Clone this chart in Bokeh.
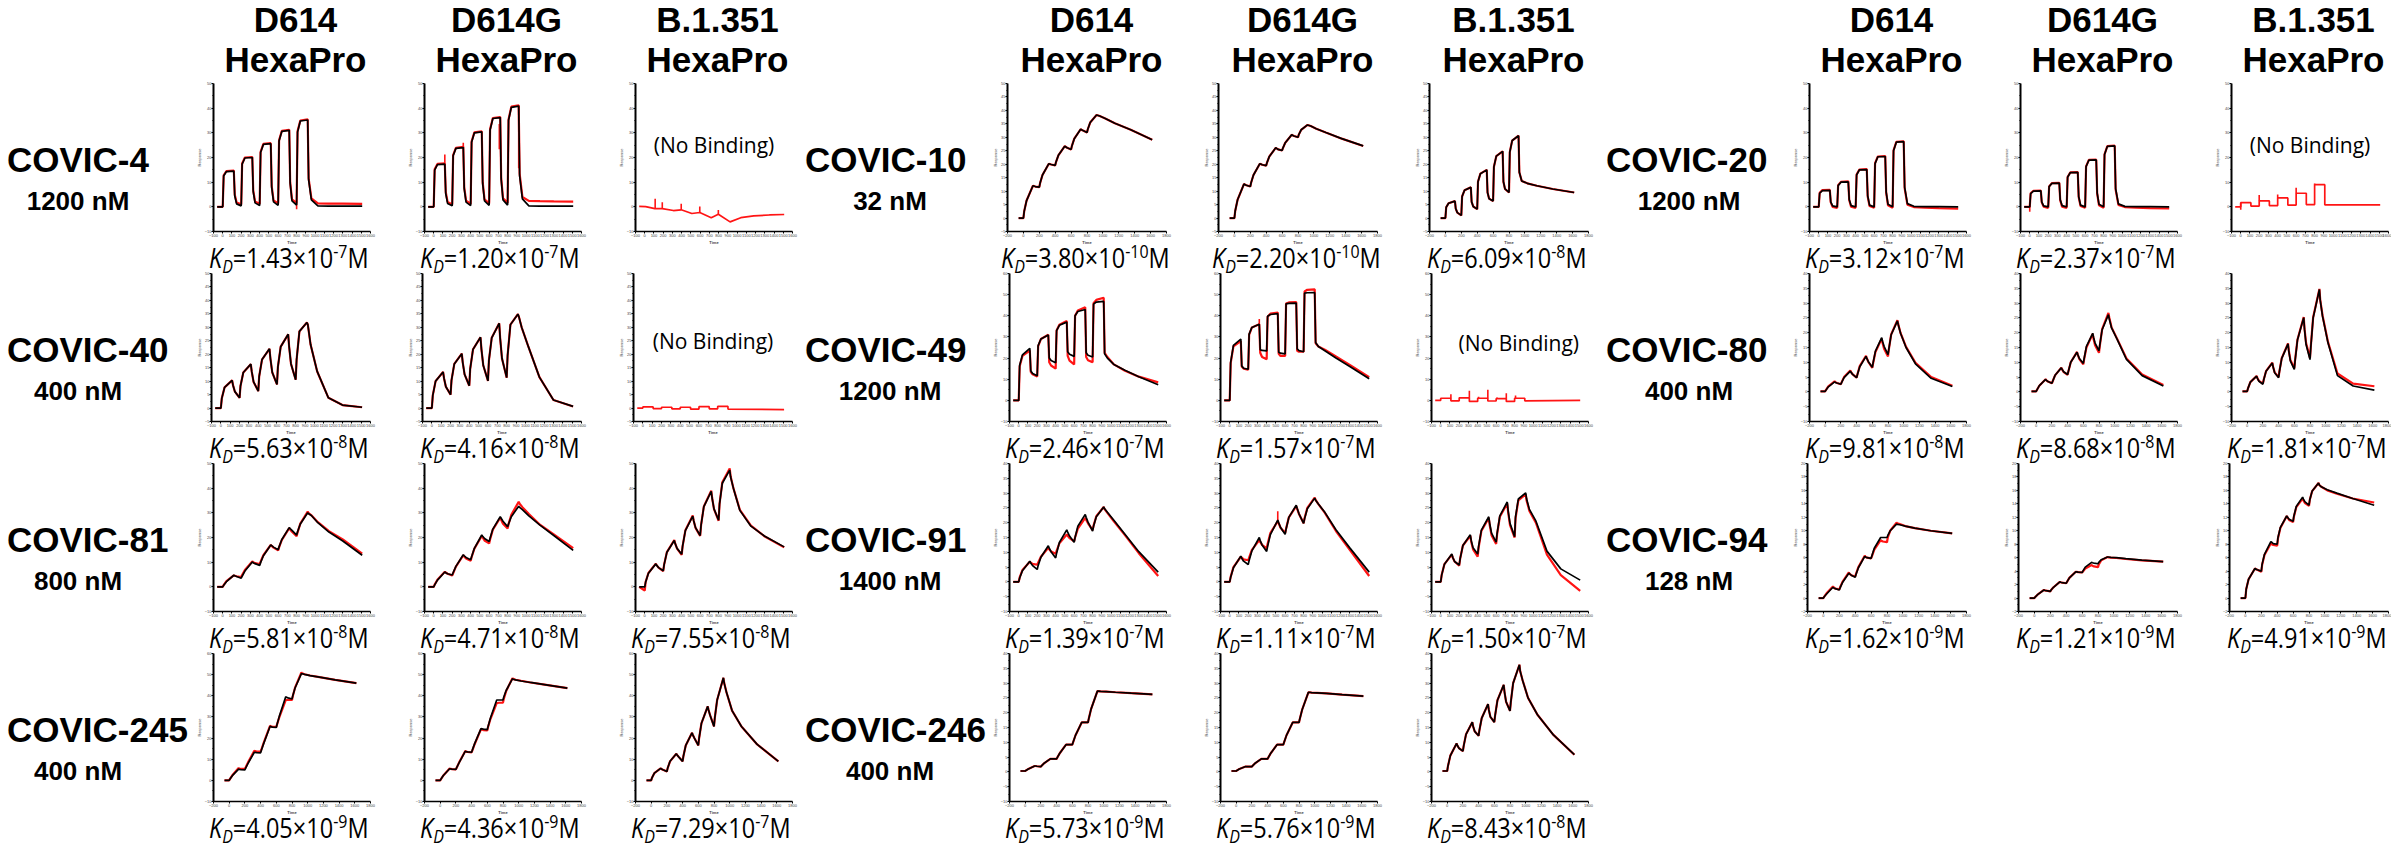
from bokeh.plotting import figure
from bokeh.models import Range1d, FixedTicker, Label, Spacer, Div
from bokeh.layouts import row, column
from bokeh.embed import file_html
from bokeh.resources import INLINE

# ---------------- data ----------------
# sample times (s) of the single-cycle sensorgrams
T_A = [-60, 0, 10, 40, 120, 130, 150, 200, 210, 240, 320, 330, 350, 400, 410, 440, 520, 530, 550,
       600, 610, 640, 720, 730, 750, 800, 810, 840, 920, 930, 960, 1030, 1150, 1300, 1510]
T_B = [-60, 0, 10, 40, 120, 130, 150, 200, 210, 240, 320, 330, 350, 400, 410, 440, 520, 530, 550,
       600, 610, 640, 720, 730, 750, 800, 810, 840, 920, 930, 960, 1030, 1150, 1350, 1620]

headers = ["D614", "D614G", "B.1.351"]
header2 = "HexaPro"
antibodies = [["COVIC-4", "COVIC-40", "COVIC-81", "COVIC-245"],
              ["COVIC-10", "COVIC-49", "COVIC-91", "COVIC-246"],
              ["COVIC-20", "COVIC-80", "COVIC-94"]]
concentrations = [["1200 nM", "400 nM", "800 nM", "400 nM"],
                  ["32 nM", "1200 nM", "1400 nM", "400 nM"],
                  ["1200 nM", "400 nM", "128 nM"]]
kd_mantissa = [[["1.43", "1.20", None], ["5.63", "4.16", None], ["5.81", "4.71", "7.55"], ["4.05", "4.36", "7.29"]],
               [["3.80", "2.20", "6.09"], ["2.46", "1.57", None], ["1.39", "1.11", "1.50"], ["5.73", "5.76", "8.43"]],
               [["3.12", "2.37", None], ["9.81", "8.68", "1.81"], ["1.62", "1.21", "4.91"]]]
kd_exponent = [[["-7", "-7", None], ["-8", "-8", None], ["-8", "-8", "-8"], ["-9", "-9", "-7"]],
               [["-10", "-10", "-8"], ["-7", "-7", None], ["-7", "-7", "-7"], ["-9", "-9", "-8"]],
               [["-7", "-7", None], ["-8", "-8", "-7"], ["-9", "-9", "-9"]]]

# COVIC-4
c4_d614_fit = [0, 0, 12.5, 14.3, 14.5, 4.5, 1.2, 0.4, 17.3, 19.8, 20.0, 6.2, 1.6, 0.5, 22.0, 25.3, 25.6, 8.0, 2.0, 0.6, 26.7, 30.6, 31.0, 9.6, 2.4, 0.7, 30.3, 34.8, 35.2, 11.0, 2.8, 0.4, 0.3, 0.3, 0.3]
c4_d614_obs = [0, 0, 12.8, 14.5, 14.7, 5.0, 1.8, 1.0, 17.6, 20.0, 20.2, 6.8, 2.2, 1.2, 22.3, 25.5, 25.8, 8.5, 2.6, 1.4, 27.0, 30.8, 31.2, 10.0, 3.0, 1.5, 30.6, 35.0, 35.5, 11.5, 3.4, 1.4, 1.3, 1.3, 1.2]
c4_d614_spk = ([800], [1.5], [-1.0])
c4_d614g_fit = [0, 0, 14.9, 17.1, 17.3, 5.4, 1.4, 0.4, 20.7, 23.7, 24.0, 7.4, 1.9, 0.5, 26.2, 30.0, 30.4, 9.4, 2.4, 0.6, 31.1, 35.8, 36.2, 11.2, 2.8, 0.7, 35.1, 40.3, 40.8, 12.6, 3.2, 0.4, 0.3, 0.3, 0.3]
c4_d614g_obs = [0, 0, 15.2, 17.4, 17.6, 6.0, 2.0, 1.0, 21.0, 23.9, 24.3, 8.0, 2.5, 1.2, 26.5, 30.2, 30.6, 10.0, 3.0, 1.4, 31.4, 36.0, 36.4, 12.0, 3.5, 1.6, 35.4, 40.6, 41.2, 13.5, 4.0, 2.4, 2.3, 2.2, 2.1]
c4_d614g_spk = ([120, 320, 710, 920], [17.5, 24.0, 33.6, 40.8], [21.2, 26.0, 23.3, 15.6])
c4_b1351_t = [-60, 10, 110, 190, 310, 395, 510, 596, 720, 797, 924, 1040, 1180, 1350, 1510]
c4_b1351_y = [0.2, 0.1, -0.7, -0.7, -1.5, -1.2, -2.7, -2.3, -4.4, -3.0, -6.1, -4.4, -3.7, -3.3, -3.1]
c4_b1351_spk = ([113, 190, 395, 596, 797], [-0.7, -0.7, -1.2, -2.3, -3.0], [3.3, 1.9, 1.3, 0.1, -1.3])

# COVIC-40
c40_d614_fit = [0, 0, 3.6, 7.7, 10.3, 8.5, 6.1, 3.8, 8.2, 13.2, 16.3, 13.6, 9.7, 6.3, 11.8, 18.0, 22.0, 18.4, 13.2, 8.8, 15.3, 22.8, 27.4, 22.8, 16.4, 10.5, 18.0, 28.5, 31.8, 31.0, 23.5, 13.6, 3.8, 1.1, 0.3]
c40_d614g_fit = [0, 0, 4.7, 10.0, 13.4, 11.1, 7.9, 5.0, 10.3, 16.4, 20.2, 17.0, 12.5, 8.3, 14.6, 21.8, 26.3, 21.9, 15.8, 10.1, 17.6, 26.1, 31.5, 26.1, 18.4, 11.3, 19.6, 31.0, 34.9, 34.0, 30.0, 23.0, 11.5, 3.0, 0.6]
c40_b1351_t = [-60, 0, 0, 110, 110, 200, 200, 310, 310, 400, 400, 510, 510, 600, 600, 710, 710, 800, 800, 910, 910, 1510]
c40_b1351_y = [0, 0, 0.4, 0.4, -0.2, -0.2, 0.3, 0.3, -0.3, -0.3, 0.3, 0.3, -0.4, -0.4, 0.5, 0.5, -0.3, -0.3, 0.6, 0.6, -0.4, -0.6]

# COVIC-81
c81_d614_fit = [0, 0, 0.6, 2.1, 4.7, 4.5, 4.2, 3.5, 4.3, 6.4, 10.1, 9.8, 9.4, 8.7, 9.8, 12.6, 17.0, 16.7, 16.1, 15.0, 16.2, 19.2, 24.0, 23.6, 22.9, 21.0, 22.3, 25.5, 30.0, 29.6, 28.9, 26.0, 22.2, 18.6, 12.8]
c81_d614_obs = [0, 0, 0.7, 2.3, 4.6, 4.5, 4.3, 4.0, 4.8, 6.8, 10.3, 10.0, 9.6, 9.2, 10.2, 12.8, 17.0, 16.6, 15.9, 14.8, 16.0, 19.0, 23.8, 23.2, 22.3, 20.5, 22.0, 25.6, 30.5, 29.9, 29.0, 26.2, 22.6, 19.2, 13.5]
c81_d614g_fit = [0, 0, 0.8, 2.7, 6.0, 5.7, 5.3, 4.8, 5.7, 8.3, 13.0, 12.6, 11.9, 11.0, 12.2, 15.6, 21.0, 20.5, 19.6, 18.4, 19.7, 23.4, 28.4, 27.8, 26.6, 24.4, 25.5, 28.4, 32.7, 32.2, 31.3, 28.8, 25.0, 20.8, 14.8]
c81_d614g_obs = [0, 0, 0.9, 2.9, 6.1, 5.8, 5.3, 4.6, 5.5, 8.2, 12.8, 12.3, 11.5, 10.6, 12.0, 15.5, 20.6, 20.0, 18.8, 17.6, 19.2, 23.2, 28.0, 27.2, 25.6, 23.6, 25.4, 29.2, 34.5, 33.7, 32.3, 29.5, 25.2, 21.3, 15.7]
c81_b1351_fit = [0, 0, 2.0, 5.5, 9.3, 8.7, 7.8, 6.5, 9.0, 14.0, 18.8, 17.5, 15.6, 13.2, 16.5, 22.8, 28.7, 26.8, 24.0, 20.8, 25.0, 32.5, 38.7, 35.9, 31.6, 27.0, 33.5, 42.0, 47.3, 44.5, 40.0, 31.0, 24.6, 20.5, 16.2]
c81_b1351_obs = [0, -1.5, 2.0, 5.6, 9.4, 8.7, 7.8, 6.4, 9.0, 14.1, 19.0, 17.5, 15.5, 13.0, 16.4, 22.9, 28.9, 26.8, 23.9, 20.6, 25.0, 32.6, 39.0, 36.0, 31.5, 26.8, 33.6, 42.4, 48.0, 44.8, 40.0, 31.2, 24.8, 20.4, 16.0]

# COVIC-245
c245_d614_fit = [0, 0, 0.6, 2.2, 5.3, 5.2, 5.1, 5.0, 5.8, 8.0, 13.3, 13.2, 13.1, 13.0, 14.2, 17.5, 25.5, 25.4, 25.2, 25.0, 26.5, 30.5, 39.5, 39.3, 39.0, 38.5, 40.0, 43.8, 50.5, 50.4, 50.1, 49.5, 48.8, 47.5, 46.0]
c245_d614_obs = [0, 0, 0.7, 2.4, 5.8, 5.6, 5.5, 5.5, 6.2, 8.5, 14.0, 13.8, 13.6, 13.6, 14.6, 17.8, 25.8, 25.6, 25.3, 25.3, 26.5, 30.0, 38.0, 38.0, 38.0, 38.0, 39.8, 44.0, 51.0, 50.6, 50.2, 49.6, 48.8, 47.5, 46.0]
c245_d614g_fit = [0, 0, 0.6, 2.3, 5.5, 5.4, 5.3, 5.2, 6.0, 8.3, 13.8, 13.6, 13.5, 13.3, 14.4, 17.5, 24.5, 24.4, 24.2, 24.0, 25.5, 29.5, 38.0, 38.0, 38.0, 38.0, 39.4, 42.5, 48.0, 47.8, 47.5, 47.0, 46.3, 45.2, 43.6]
c245_d614g_obs = [0, 0, 0.6, 2.3, 5.6, 5.5, 5.3, 5.2, 6.0, 8.4, 13.9, 13.6, 13.4, 13.2, 14.2, 17.2, 24.2, 24.0, 23.8, 23.6, 25.3, 29.0, 36.5, 36.6, 36.7, 36.8, 38.5, 42.2, 48.3, 48.0, 47.6, 47.1, 46.3, 45.2, 43.6]
c245_b1351_fit = [0, 0, 1.2, 3.4, 5.7, 5.4, 5.0, 4.2, 5.8, 9.0, 12.6, 12.0, 11.1, 9.0, 11.4, 16.5, 22.5, 21.5, 20.0, 16.5, 19.8, 27.0, 35.0, 33.4, 30.8, 25.5, 29.5, 38.0, 48.5, 46.0, 41.5, 33.0, 25.5, 17.0, 9.0]

# COVIC-10
c10_d614_fit = [0, 0, 2.5, 6.5, 12.0, 11.9, 11.7, 11.5, 13.0, 16.0, 20.2, 20.1, 19.9, 19.6, 20.8, 23.3, 26.7, 26.5, 26.1, 25.5, 26.8, 29.5, 33.0, 32.8, 32.5, 31.8, 33.0, 35.5, 38.3, 38.2, 37.9, 37.0, 35.2, 32.8, 29.1]
c10_d614g_fit = [0, 0, 2.6, 6.8, 12.6, 12.5, 12.2, 11.7, 13.1, 16.0, 20.2, 20.1, 19.8, 19.5, 20.6, 22.9, 26.1, 25.9, 25.5, 25.1, 26.0, 28.0, 30.9, 30.8, 30.5, 30.0, 31.0, 32.8, 34.6, 34.5, 34.2, 33.2, 31.8, 29.5, 26.8]
c10_b1351_fit = [0, 0, 4.0, 5.5, 6.3, 3.5, 2.0, 1.0, 8.0, 10.3, 11.4, 6.0, 4.3, 3.3, 13.5, 16.5, 17.9, 9.5, 7.2, 6.3, 19.0, 23.0, 24.8, 13.5, 10.8, 9.5, 24.5, 28.8, 30.6, 17.0, 13.8, 12.9, 12.0, 10.8, 9.5]

# COVIC-49
c49_d614_fit = [0, 0, 16.6, 21.5, 24.6, 14.0, 12.7, 11.6, 25.9, 29.0, 30.9, 20.0, 18.9, 17.8, 33.0, 35.5, 37.0, 23.0, 21.8, 20.8, 40.0, 42.0, 43.0, 22.5, 21.3, 20.5, 45.5, 46.5, 46.8, 22.0, 20.0, 17.0, 14.2, 11.2, 7.4]
c49_d614_obs = [0, 0, 16.0, 21.0, 23.5, 13.5, 12.3, 11.3, 25.5, 29.0, 31.0, 18.0, 16.5, 15.0, 33.0, 35.8, 37.5, 21.0, 18.8, 17.0, 40.0, 42.5, 44.0, 20.5, 19.0, 18.0, 46.0, 47.5, 48.5, 22.5, 20.5, 17.0, 14.0, 11.2, 8.5]
c49_d614g_fit = [0, 0, 18.0, 26.0, 29.0, 16.3, 15.2, 14.7, 31.3, 34.5, 36.0, 24.0, 23.6, 23.4, 39.8, 40.6, 41.0, 22.8, 22.3, 22.0, 45.6, 45.9, 46.0, 24.3, 23.5, 23.0, 50.7, 50.9, 51.0, 27.4, 25.5, 23.5, 20.0, 16.0, 10.2]
c49_d614g_obs = [0, 0, 17.5, 25.5, 28.0, 16.0, 15.0, 14.5, 31.0, 34.5, 36.0, 22.5, 20.5, 19.5, 39.5, 41.0, 41.5, 22.0, 21.0, 21.0, 45.8, 46.3, 46.5, 23.5, 23.0, 23.0, 51.5, 52.3, 52.5, 27.0, 25.5, 24.0, 20.8, 16.8, 11.0]
c49_d614g_spk = ([320], [36.0], [38.5])
c49_b1351_t = [-60, 0, 0, 110, 110, 200, 200, 310, 310, 400, 400, 510, 510, 600, 600, 710, 710, 800, 800, 910, 910, 1510]
c49_b1351_y = [0, 0, 1.0, 1.0, -0.2, -0.2, 1.2, 1.2, -0.5, -0.5, 1.0, 1.0, -0.3, -0.3, 0.8, 0.8, -0.5, -0.5, 1.0, 1.0, -0.2, 0.0]
c49_b1351_spk = ([110, 210, 310, 410, 510, 610, 710, 810], [1.0, 1.2, 1.2, 1.0, 1.0, 0.8, 0.8, 1.0], [2.9, 1.5, 4.5, 1.7, 5.0, 1.3, 3.4, 2.3])

# COVIC-91
c91_d614_fit = [0, 0, 1.3, 3.8, 7.0, 6.4, 5.5, 4.2, 5.5, 8.3, 12.2, 11.4, 10.2, 8.1, 9.7, 13.3, 17.6, 16.8, 15.5, 13.4, 15.0, 18.8, 22.8, 21.8, 20.2, 17.2, 18.8, 22.0, 25.3, 24.7, 23.5, 20.8, 16.1, 10.2, 3.3]
c91_d614_obs = [0, 0, 1.5, 4.0, 6.8, 6.5, 6.1, 5.8, 6.5, 8.5, 11.5, 11.0, 10.3, 9.5, 10.5, 13.0, 16.0, 15.6, 14.8, 13.7, 15.0, 18.0, 21.6, 21.0, 19.8, 17.5, 19.0, 22.2, 25.3, 24.6, 23.3, 20.5, 15.8, 9.7, 2.0]
c91_d614g_fit = [0, 0, 1.6, 4.8, 8.7, 8.0, 7.0, 5.9, 7.2, 10.5, 15.0, 14.0, 12.5, 10.3, 12.0, 16.0, 20.9, 20.0, 18.4, 16.1, 17.8, 21.8, 25.9, 24.9, 23.0, 19.8, 21.3, 24.7, 28.3, 27.6, 26.3, 23.5, 17.6, 11.5, 3.3]
c91_d614g_obs = [0, 0, 1.7, 5.0, 8.5, 8.2, 7.6, 7.3, 8.2, 10.8, 14.1, 13.5, 12.5, 11.3, 12.8, 16.5, 20.5, 19.8, 18.3, 16.5, 18.0, 21.8, 25.6, 24.7, 22.9, 19.8, 21.5, 25.0, 28.5, 27.7, 26.3, 23.3, 17.2, 10.8, 2.0]
c91_d614g_spk = ([520], [20.5], [23.9])
c91_b1351_fit = [0, 0, 2.3, 6.0, 9.4, 8.3, 6.9, 5.7, 7.8, 12.3, 15.9, 14.0, 11.5, 9.4, 12.0, 17.5, 22.0, 19.8, 16.5, 13.4, 16.3, 22.3, 27.0, 24.0, 19.8, 15.3, 22.0, 28.0, 30.1, 28.0, 24.5, 20.6, 10.4, 4.4, 0.6]
c91_b1351_obs = [0, 0, 2.3, 6.0, 9.2, 8.2, 6.9, 5.5, 7.8, 12.3, 15.6, 13.6, 11.0, 8.5, 11.5, 17.2, 21.6, 19.2, 15.8, 12.8, 16.0, 22.0, 26.5, 23.5, 19.2, 15.0, 21.5, 27.5, 29.6, 27.4, 24.0, 20.0, 9.2, 2.3, -3.0]

# COVIC-246
c246_d614_fit = [0.3, 0.3, 0.5, 1.0, 2.0, 2.0, 1.9, 1.8, 2.1, 2.9, 4.4, 4.4, 4.4, 4.4, 4.9, 6.3, 9.2, 9.2, 9.2, 9.2, 10.0, 12.3, 16.7, 16.7, 16.7, 16.7, 18.0, 21.3, 27.3, 27.3, 27.2, 27.1, 26.9, 26.6, 26.2]
c246_d614g_fit = [0.3, 0.3, 0.5, 1.0, 1.8, 1.8, 1.8, 1.8, 2.1, 2.9, 4.4, 4.4, 4.4, 4.4, 4.9, 6.3, 9.2, 9.2, 9.2, 9.2, 10.0, 12.3, 16.7, 16.7, 16.7, 16.7, 17.9, 21.0, 26.9, 26.9, 26.8, 26.7, 26.5, 26.1, 25.6]
c246_b1351_fit = [0.3, 0.3, 2.0, 5.5, 9.6, 8.9, 8.0, 7.0, 8.8, 12.7, 16.8, 15.4, 13.7, 12.2, 14.0, 18.2, 22.9, 21.0, 18.6, 16.8, 19.0, 24.2, 29.4, 27.0, 23.7, 20.6, 23.5, 30.0, 36.2, 34.0, 31.0, 25.0, 19.3, 12.6, 5.8]

# COVIC-20
c20_d614_fit = [0, 0, 5.5, 6.6, 6.7, 2.0, 0.4, 0.0, 8.6, 10.0, 10.1, 3.0, 0.5, 0.0, 12.9, 15.0, 15.1, 4.5, 0.7, 0.0, 17.5, 20.3, 20.4, 6.1, 1.0, 0.0, 22.7, 26.2, 26.4, 8.0, 1.3, 0.2, 0.1, 0.1, 0.0]
c20_d614_obs = [0, 0, 5.7, 6.8, 6.9, 1.8, 0.0, -0.4, 8.8, 10.1, 10.3, 2.8, 0.1, -0.4, 13.1, 15.1, 15.3, 4.2, 0.3, -0.4, 17.7, 20.4, 20.6, 5.8, 0.6, -0.4, 22.9, 26.3, 26.6, 7.6, 0.9, -0.1, -0.3, -0.5, -0.7]
c20_d614g_fit = [0, 0, 5.4, 6.4, 6.5, 2.0, 0.4, 0.0, 8.2, 9.5, 9.6, 2.9, 0.5, 0.0, 12.0, 13.9, 14.0, 4.2, 0.7, 0.0, 16.3, 18.9, 19.0, 5.7, 1.0, 0.0, 21.2, 24.5, 24.7, 7.4, 1.2, 0.2, 0.1, 0.1, 0.0]
c20_d614g_obs = [0, 0, 5.5, 6.5, 6.6, 1.8, 0.1, -0.4, 8.3, 9.6, 9.7, 2.7, 0.1, -0.4, 12.1, 14.0, 14.1, 4.0, 0.3, -0.4, 16.4, 19.0, 19.1, 5.4, 0.6, -0.4, 21.3, 24.6, 24.8, 7.0, 0.8, -0.1, -0.3, -0.5, -0.6]
c20_d614g_spk = ([0], [0.0], [-2.0])
c20_b1351_t = [-60, 0, 0, 110, 110, 200, 200, 310, 310, 400, 400, 510, 510, 600, 600, 710, 710, 800, 800, 910, 910, 1510]
c20_b1351_y = [0, 0, 1.7, 1.7, 0.3, 0.3, 2.4, 2.4, 0.5, 0.5, 3.6, 3.6, 0.7, 0.7, 5.5, 5.5, 0.9, 0.9, 9.0, 9.0, 0.8, 0.8]
c20_b1351_spk = ([0, 200, 400, 600, 800], [1.7, 2.4, 3.6, 5.5, 9.0], [-1.2, 4.8, 5.0, 7.7, 9.5])

# COVIC-80
c80_d614_fit = [0.2, 0.2, 0.6, 1.7, 3.4, 3.2, 3.0, 2.6, 3.2, 4.8, 7.0, 6.6, 5.9, 4.8, 5.8, 8.5, 12.0, 11.3, 10.2, 8.3, 9.8, 13.8, 18.3, 17.1, 15.4, 12.6, 14.4, 19.3, 24.0, 22.8, 19.8, 15.0, 9.5, 4.6, 1.8]
c80_d614_obs = [0.2, 0.2, 0.7, 1.9, 3.6, 3.3, 3.0, 2.6, 3.3, 5.0, 7.2, 6.7, 5.9, 4.8, 5.9, 8.7, 12.2, 11.4, 10.1, 8.1, 9.6, 13.5, 18.0, 16.6, 14.6, 12.0, 14.2, 19.4, 24.2, 22.9, 19.9, 15.2, 9.8, 5.0, 2.1]
c80_d614g_fit = [0.2, 0.2, 0.7, 2.1, 4.2, 3.9, 3.5, 2.9, 3.6, 5.6, 8.1, 7.6, 6.8, 5.9, 7.0, 10.0, 13.4, 12.6, 11.3, 9.6, 11.2, 15.4, 19.8, 18.5, 16.5, 13.9, 15.8, 21.0, 26.1, 24.8, 21.6, 17.8, 11.0, 5.5, 2.0]
c80_d614g_obs = [0.2, 0.2, 0.7, 2.1, 4.3, 3.9, 3.5, 2.9, 3.6, 5.6, 8.2, 7.6, 6.7, 5.8, 6.9, 10.0, 13.5, 12.5, 11.1, 9.3, 10.9, 15.0, 19.6, 18.0, 15.8, 13.2, 15.5, 21.2, 26.7, 25.2, 21.8, 18.0, 11.3, 5.9, 2.3]
c80_b1351_fit = [0.2, 0.2, 1.2, 3.3, 5.3, 4.6, 3.6, 2.6, 4.0, 7.0, 9.8, 8.4, 6.5, 4.8, 6.8, 11.3, 16.2, 13.8, 10.5, 7.6, 10.5, 17.5, 25.1, 21.2, 16.0, 10.9, 15.0, 25.0, 34.6, 31.0, 25.5, 16.5, 5.5, 2.0, 0.6]
c80_b1351_obs = [0.2, 0.2, 1.2, 3.3, 5.4, 4.7, 3.7, 2.8, 4.1, 7.0, 9.9, 8.5, 6.6, 5.0, 6.9, 11.4, 16.4, 14.0, 10.8, 8.0, 10.8, 17.6, 25.3, 21.5, 16.5, 11.5, 15.3, 25.2, 34.8, 31.2, 25.8, 16.8, 6.2, 2.8, 1.9]

# COVIC-94
c94_d614_fit = [0, 0, 0.2, 0.6, 1.6, 1.5, 1.4, 1.2, 1.5, 2.3, 3.7, 3.6, 3.4, 3.1, 3.5, 4.5, 6.2, 6.1, 6.0, 5.9, 6.3, 7.4, 9.0, 9.0, 9.0, 9.0, 9.3, 10.0, 11.0, 10.95, 10.9, 10.7, 10.4, 10.0, 9.6]
c94_d614_obs = [0, 0, 0.2, 0.7, 1.7, 1.6, 1.4, 1.3, 1.6, 2.4, 3.8, 3.6, 3.4, 3.2, 3.6, 4.6, 6.3, 6.1, 6.0, 5.9, 6.2, 7.2, 8.6, 8.5, 8.4, 8.3, 9.0, 10.0, 11.2, 11.1, 11.0, 10.7, 10.4, 10.0, 9.6]
c94_d614g_fit = [0, 0, 0.15, 0.5, 1.2, 1.15, 1.1, 1.0, 1.2, 1.6, 2.4, 2.35, 2.3, 2.2, 2.4, 3.0, 3.9, 3.9, 3.85, 3.8, 4.0, 4.6, 5.3, 5.25, 5.2, 5.1, 5.3, 5.7, 6.1, 6.1, 6.05, 6.0, 5.85, 5.65, 5.4]
c94_d614g_obs = [0, 0, 0.15, 0.5, 1.2, 1.15, 1.1, 1.0, 1.2, 1.6, 2.4, 2.35, 2.3, 2.2, 2.4, 3.0, 3.9, 3.9, 3.85, 3.8, 3.95, 4.4, 4.9, 4.8, 4.7, 4.6, 5.0, 5.6, 6.1, 6.05, 6.0, 5.95, 5.8, 5.6, 5.4]
c94_b1351_fit = [0, 0, 1.3, 2.8, 4.4, 4.3, 4.2, 4.0, 5.0, 6.5, 8.4, 8.3, 8.1, 8.0, 9.0, 10.5, 12.2, 12.0, 11.7, 11.4, 12.2, 13.6, 15.0, 14.7, 14.3, 13.8, 14.6, 15.9, 17.1, 16.8, 16.5, 16.1, 15.6, 14.8, 13.8]
c94_b1351_obs = [0, 0, 1.3, 2.8, 4.4, 4.3, 4.2, 3.9, 4.9, 6.4, 8.1, 8.0, 7.9, 7.8, 8.9, 10.4, 12.2, 12.0, 11.6, 11.3, 12.1, 13.5, 14.8, 14.5, 14.1, 13.7, 14.6, 15.9, 17.1, 16.8, 16.5, 16.0, 15.5, 14.8, 14.2]

# axis settings per block/row: (time axis kind, ymin, ymax, ystep)
axes_spec = [[("A", -10, 50, 10), ("A", -5, 50, 5), ("A", -10, 50, 10), ("B", -10, 60, 10)],
             [("B", -5, 50, 5), ("A", -10, 60, 10), ("A", -10, 40, 5), ("B", -10, 40, 5)],
             [("A", -10, 50, 10), ("B", -10, 40, 5), ("B", -2, 20, 2)]]

curves = [
    [[("fit", c4_d614_fit, c4_d614_obs, c4_d614_spk), ("fit", c4_d614g_fit, c4_d614g_obs, c4_d614g_spk), ("nb", c4_b1351_t, c4_b1351_y, c4_b1351_spk)],
     [("fit", c40_d614_fit, None, None), ("fit", c40_d614g_fit, None, None), ("nb", c40_b1351_t, c40_b1351_y, None)],
     [("fit", c81_d614_fit, c81_d614_obs, None), ("fit", c81_d614g_fit, c81_d614g_obs, None), ("fit", c81_b1351_fit, c81_b1351_obs, None)],
     [("fit", c245_d614_fit, c245_d614_obs, None), ("fit", c245_d614g_fit, c245_d614g_obs, None), ("fit", c245_b1351_fit, None, None)]],
    [[("fit", c10_d614_fit, None, None), ("fit", c10_d614g_fit, None, None), ("fit", c10_b1351_fit, None, None)],
     [("fit", c49_d614_fit, c49_d614_obs, None), ("fit", c49_d614g_fit, c49_d614g_obs, c49_d614g_spk), ("nb", c49_b1351_t, c49_b1351_y, c49_b1351_spk)],
     [("fit", c91_d614_fit, c91_d614_obs, None), ("fit", c91_d614g_fit, c91_d614g_obs, c91_d614g_spk), ("fit", c91_b1351_fit, c91_b1351_obs, None)],
     [("fit", c246_d614_fit, None, None), ("fit", c246_d614g_fit, None, None), ("fit", c246_b1351_fit, None, None)]],
    [[("fit", c20_d614_fit, c20_d614_obs, None), ("fit", c20_d614g_fit, c20_d614g_obs, c20_d614g_spk), ("nb", c20_b1351_t, c20_b1351_y, c20_b1351_spk)],
     [("fit", c80_d614_fit, c80_d614_obs, None), ("fit", c80_d614g_fit, c80_d614g_obs, None), ("fit", c80_b1351_fit, c80_b1351_obs, None)],
     [("fit", c94_d614_fit, c94_d614_obs, None), ("fit", c94_d614g_fit, c94_d614g_obs, None), ("fit", c94_b1351_fit, c94_b1351_obs, None)]],
]

# ---------------- layout / style ----------------
HEADER_H = 80
ROW_H = 190
BL, BT, BB = 16, 3, 12
FW, FH = 161, 152
PANEL_H = BT + FH + BB      # 167
KD_H = ROW_H - PANEL_H      # 23
CELL_WS = [[211, 211, 183], [211, 211, 183], [211, 211, 180]]
LABEL_W = [193, 191, 195]
NAME_X = [7, 7, 12]          # left edge of antibody name inside label column
CONC_CX = [78, 92, 95]       # centre of concentration inside label column
SANS = "'Liberation Sans', Arial, sans-serif"
KDF = "'Open Sans', 'Noto Sans', sans-serif"
RED = "#ff1414"
KD_SIZE, KD_SMALL, KD_SCALE = 28, 19, 0.84


def span(x, y, txt, css, center=False):
    tr = "transform:translateX(-50%);" if center else ""
    return (f'<span style="position:absolute;left:{x:.1f}px;top:{y:.1f}px;white-space:nowrap;'
            f'line-height:1;{tr}{css}">{txt}</span>')


def box(w, h, inner):
    html = f'<div style="position:relative;width:{w}px;height:{h}px;">{"".join(inner)}</div>'
    return Div(text=html, width=w, height=h, margin=(0, 0, 0, 0))


def kd_html(mant, exp):
    return (f'<i>K</i><i style="font-size:{KD_SMALL}px;position:relative;top:5px;">D</i>'
            f'={mant}&times;10<span style="font-size:{KD_SMALL}px;position:relative;top:-10px;">{exp}</span>M')


def make_panel(b, r, c, w):
    kind, ymin, ymax, ystep = axes_spec[b][r]
    if kind == "A":
        xr, T, xt = (-100, 1600), T_A, list(range(-100, 1601, 100))
    else:
        xr, T, xt = (-200, 1800), T_B, list(range(-200, 1801, 200))
    p = figure(width=w, height=PANEL_H, x_range=Range1d(*xr), y_range=Range1d(ymin, ymax),
               output_backend="svg", toolbar_location=None,
               min_border_left=BL, min_border_right=w - BL - FW,
               min_border_top=BT, min_border_bottom=BB)
    p.outline_line_color = None
    p.border_fill_alpha = 0
    p.background_fill_alpha = 0
    p.xgrid.visible = False
    p.ygrid.visible = False
    yt = list(range(ymin, ymax + 1, ystep))
    p.xaxis.ticker = FixedTicker(ticks=xt)
    p.yaxis.ticker = FixedTicker(ticks=yt, minor_ticks=[v + ystep / 2 for v in yt[:-1]])
    for ax, lw in ((p.xaxis, 1.6), (p.yaxis, 2.0)):
        ax.axis_line_width = lw
        ax.axis_line_color = "black"
        ax.major_tick_in = 0
        ax.major_tick_out = 2
        ax.minor_tick_in = 0
        ax.minor_tick_out = 1
        ax.major_label_text_font_size = "4px"
        ax.major_label_text_font = "Liberation Sans"
        ax.major_label_standoff = 0
        ax.axis_label_text_font_size = "4px"
        ax.axis_label_text_font = "Liberation Sans"
        ax.axis_label_standoff = 0
    p.xaxis.axis_label = "Time"
    p.xaxis.axis_label_text_font_style = "bold"
    p.yaxis.axis_label = "Response"
    p.yaxis.axis_label_text_font_style = "normal"

    spec = curves[b][r][c]
    if spec[0] == "fit":
        _, fit, obs, spk = spec
        p.line(T, obs if obs is not None else fit, line_color=RED, line_width=2.2)
        if spk is not None:
            p.segment(x0=spk[0], y0=spk[1], x1=spk[0], y1=spk[2], line_color=RED, line_width=1.6)
        p.line(T, fit, line_color="black", line_width=1.7)
    else:
        _, tt, yy, spk = spec
        p.line(tt, yy, line_color=RED, line_width=1.7)
        if spk is not None:
            p.segment(x0=spk[0], y0=spk[1], x1=spk[0], y1=spk[2], line_color=RED, line_width=1.6)
        ynb = 27 if ymax == 60 else 25
        xnb = (xr[0] + xr[1]) / 2 + (95 if b == 1 else 0)
        p.add_layout(Label(x=xnb, y=ynb, text="(No Binding)", text_font="Open Sans",
                           text_font_size="21px", text_align="center", text_baseline="middle",
                           text_color="black"))
    p.add_layout(Label(x=xr[0], y=ymax, text="RU", text_font="Liberation Sans", text_font_size="4px",
                       text_align="right", text_baseline="bottom", x_offset=-1, text_color="#333333"))
    p.add_layout(Label(x=xr[1], y=ymin, text="s", text_font="Liberation Sans", text_font_size="4px",
                       text_align="left", text_baseline="top", x_offset=3, text_color="#333333"))
    return p


hdr_spans = []
body_children = []
x_left = 8
for b in range(3):
    lw = LABEL_W[b]
    inner = []
    for r, name in enumerate(antibodies[b]):
        inner.append(span(NAME_X[b], 180 - HEADER_H - 8 - 29.6 + ROW_H * r, name,
                          f"font-family:{SANS};font-weight:bold;font-size:35px;"))
        inner.append(span(CONC_CX[b], 218 - HEADER_H - 8 - 22.0 + ROW_H * r, concentrations[b][r],
                          f"font-family:{SANS};font-weight:bold;font-size:26px;", center=True))
    body_children.append(box(lw, 4 * ROW_H, inner))
    gx = x_left + lw
    widths = CELL_WS[b]
    rows = []
    for r in range(len(antibodies[b])):
        cells = [make_panel(b, r, c, widths[c]) for c in range(3)]
        rows.append(row(*cells))
        kd_inner = []
        cx0 = 0
        for c in range(3):
            m = kd_mantissa[b][r][c]
            if m is not None:
                e = kd_exponent[b][r][c]
                dx = -4 if len(e) > 2 else 0
                baseline = 21
                kd_inner.append(span(cx0 + BL + dx, baseline - 0.888 * KD_SIZE, kd_html(m, e),
                                     f"font-family:{KDF};font-size:{KD_SIZE}px;color:#000;"
                                     f"transform:scaleX({KD_SCALE});transform-origin:0 0;"))
            cx0 += widths[c]
        rows.append(box(sum(widths), KD_H, kd_inner))
    if len(antibodies[b]) < 4:
        rows.append(Spacer(width=sum(widths), height=ROW_H, margin=(0, 0, 0, 0)))
    body_children.append(column(*rows))
    cx0 = gx
    for c in range(3):
        cx = cx0 + BL + FW / 2 + 6 - 8
        hdr_spans.append(span(cx, 31.5 - 29.6, headers[c],
                              f"font-family:{SANS};font-weight:bold;font-size:35px;", center=True))
        hdr_spans.append(span(cx, 71.5 - 29.6, header2,
                              f"font-family:{SANS};font-weight:bold;font-size:35px;", center=True))
        cx0 += widths[c]
    x_left = gx + sum(widths)

header = box(2391, HEADER_H, hdr_spans)
page = column(header, row(*body_children))
open("out.html", "w").write(file_html(page, INLINE))
